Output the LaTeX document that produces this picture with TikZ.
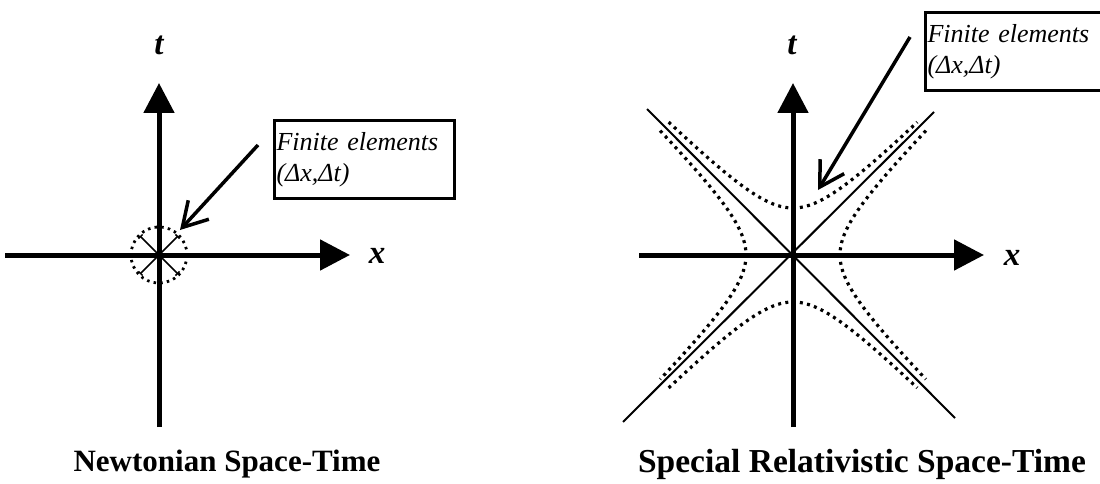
\documentclass[tikz,border=0pt]{standalone}
\usepackage{fontspec}
\setmainfont{Liberation Serif}
\usetikzlibrary{
  positioning,
  arrows.meta
}

\begin{document}
\begin{tikzpicture}[
  x=1pt, y=-1pt,
  axis/.style={
    line width=5pt,
    -{Triangle[length=30pt,width=30pt]}
  },
  cone/.style={line width=2pt},
  hyper/.style={
    line width=3.2pt,
    dash pattern=on 3pt off 4.3pt
  },
  element/.style={
    draw,
    line width=3pt,
    anchor=north west,
    minimum width=180pt,
    minimum height=78pt,
    text width=176pt,
    inner xsep=2pt,
    align=left,
    font=\itshape\fontsize{26}{31}\selectfont
  },
  pointer/.style={
    line width=3.5pt,
    -{Straight Barb[length=24pt,width=28pt]}
  },
  axlabel/.style={font=\bfseries\itshape\fontsize{33}{36}\selectfont},
  caption/.style={font=\bfseries\fontsize{31}{36}\selectfont}
]
\useasboundingbox (0,0) rectangle (1100,484);
\clip (0,0) rectangle (1100,484);

% Newtonian axes
\coordinate (nO) at (159,255);
\coordinate (nTop) at (159,83);
\coordinate (nBot) at (159,427);
\coordinate (nLeft) at (5,255);
\coordinate (nRight) at (350,255);
\draw[axis] (nBot) -- (nTop);
\draw[axis] (nLeft) -- (nRight);
\node[axlabel] (nT) at (159,45) {t};
\node[axlabel] (nX) at (377,256) {x};

% Finite element at the origin
\draw[hyper, line width=2.8pt, dash pattern=on 2.5pt off 4.2pt] (nO) circle (28);
\draw[line width=1.5pt, {Bar[width=6pt]}-{Bar[width=6pt]}] (140,236) -- (178,274);
\draw[line width=1.5pt, {Bar[width=6pt]}-{Bar[width=6pt]}] (178,236) -- (140,274);

% Label and pointer
\node[element] (newtBox) at (273,119) {Finite elements\\(Δx,Δt)};
\coordinate (newtFrom) at (258,145);
\coordinate (newtTo) at (180,230);
\draw[pointer] (newtFrom) -- (newtTo);

\node[caption] (newtTitle) at (227,464) {Newtonian Space-Time};

% Relativistic axes
\coordinate (rO) at (793,255);
\coordinate (rTop) at (793,83);
\coordinate (rBot) at (793,427);
\coordinate (rLeft) at (639,255);
\coordinate (rRight) at (984,255);
\draw[axis] (rBot) -- (rTop);
\draw[axis] (rLeft) -- (rRight);
\node[axlabel] (rT) at (792,45) {t};
\node[axlabel] (rX) at (1012,258) {x};

% Light cone
\draw[cone] (647,109) -- (955,418);
\draw[cone] (934,112) -- (623,422);

% Hyperbolae
\draw[hyper] plot[domain=-1.7:1.7, samples=60] ({793+47*sinh(\x)}, {255-47*cosh(\x)});
\draw[hyper] plot[domain=-1.7:1.7, samples=60] ({793+47*sinh(\x)}, {255+47*cosh(\x)});
\draw[hyper] plot[domain=-1.7:1.7, samples=60] ({793-47*cosh(\x)}, {255+47*sinh(\x)});
\draw[hyper] plot[domain=-1.7:1.7, samples=60] ({793+47*cosh(\x)}, {255+47*sinh(\x)});

% Label and pointer
\node[element] (relBox) at (924,11) {Finite elements\\(Δx,Δt)};
\coordinate (relFrom) at (910,37);
\coordinate (relTo) at (818,190);
\draw[pointer] (relFrom) -- (relTo);

\node[caption, font=\bfseries\fontsize{33.5}{38}\selectfont] (relTitle) at (862,464) {Special Relativistic Space-Time};

\end{tikzpicture}
\end{document}
